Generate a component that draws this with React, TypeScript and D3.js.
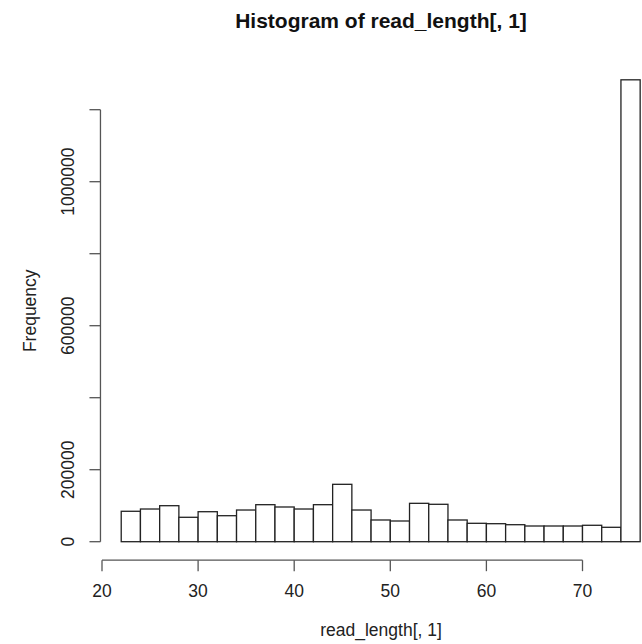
import React from "react";
import * as d3 from "d3";

const breaks = [22, 24, 26, 28, 30, 32, 34, 36, 38, 40, 42, 44, 46, 48, 50, 52, 54, 56, 58, 60, 62, 64, 66, 68, 70, 72, 74, 76];
const counts = [84500, 90800, 100000, 67800, 83300, 72200, 88000, 102800, 96400, 90800, 102800, 159400, 88000, 60300, 57500, 106600, 103900, 60300, 51100, 50000, 47200, 43600, 43600, 43600, 45600, 40000, 1283000];
const xTicks = [20, 30, 40, 50, 60, 70];
const yTicks = [0, 200000, 400000, 600000, 800000, 1000000, 1200000];
const yTickLabels = ["0", "200000", "", "600000", "", "1000000", ""];
const title = "Histogram of read_length[, 1]";
const xLabel = "read_length[, 1]";
const yLabel = "Frequency";

export default function App() {
  const W = 642;
  const H = 644;
  const x = d3.scaleLinear().domain([20, 70]).range([102, 582.5]);
  const y = d3.scaleLinear().domain([0, 1200000]).range([541.7, 109.7]);
  const xr = d3.scaleLinear().domain([19.84, 78.16]).range([x(19.84), x(78.16)]);
  const yAxisX = x(19.84);
  const xAxisY = y(-51320);
  const font = "'Liberation Sans', Arial, Helvetica, sans-serif";
  const axisColor = "#555";
  const tick = 11;
  const fs = 17.5;

  return (
    <svg width={W} height={H} style={{ position: "absolute", left: 0, top: 0, background: "#fff" }}>
      <rect x={0} y={0} width={W} height={H} fill="#fff" />
      {counts.map((c, i) => (
        <rect
          key={i}
          x={xr(breaks[i])}
          y={y(c)}
          width={xr(breaks[i + 1]) - xr(breaks[i])}
          height={y(0) - y(c)}
          fill="#fff"
          stroke="#222"
          strokeWidth={1.3}
        />
      ))}
      {/* x axis */}
      <line x1={x(xTicks[0])} x2={x(xTicks[xTicks.length - 1])} y1={xAxisY} y2={xAxisY} stroke={axisColor} strokeWidth={1.3} />
      {xTicks.map((t) => (
        <g key={t}>
          <line x1={x(t)} x2={x(t)} y1={xAxisY} y2={xAxisY + tick} stroke={axisColor} strokeWidth={1.3} />
          <text x={x(t)} y={597} textAnchor="middle" fontFamily={font} fontSize={fs} fill="#222">
            {t}
          </text>
        </g>
      ))}
      {/* y axis */}
      <line x1={yAxisX} x2={yAxisX} y1={y(yTicks[0])} y2={y(yTicks[yTicks.length - 1])} stroke={axisColor} strokeWidth={1.3} />
      {yTicks.map((t, i) => (
        <g key={t}>
          <line x1={yAxisX - tick} x2={yAxisX} y1={y(t)} y2={y(t)} stroke={axisColor} strokeWidth={1.3} />
          {yTickLabels[i] && (
            <text
              transform={`translate(73.5,${y(t)}) rotate(-90)`}
              textAnchor="middle"
              fontFamily={font}
              fontSize={fs}
              fill="#222"
            >
              {yTickLabels[i]}
            </text>
          )}
        </g>
      ))}
      <text x={381} y={27.5} textAnchor="middle" fontFamily={font} fontSize={21} fontWeight="bold" fill="#111">
        {title}
      </text>
      <text x={381} y={636} textAnchor="middle" fontFamily={font} fontSize={fs} fill="#222">
        {xLabel}
      </text>
      <text
        transform={`translate(35.5,${(y(-51320) + y(1334320)) / 2}) rotate(-90)`}
        textAnchor="middle"
        fontFamily={font}
        fontSize={fs}
        fill="#222"
      >
        {yLabel}
      </text>
    </svg>
  );
}
